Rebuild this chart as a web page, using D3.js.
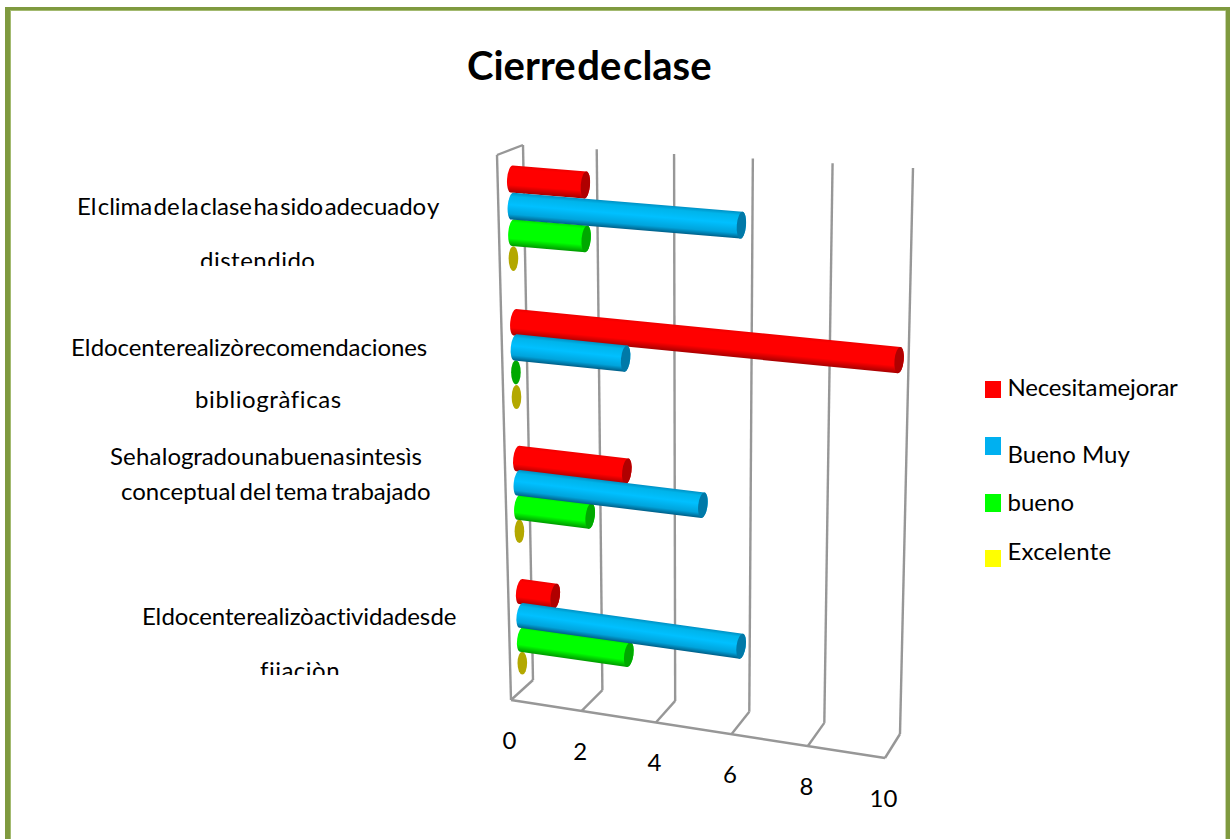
<!DOCTYPE html>
<html><head><meta charset="utf-8">
<script src="https://cdn.jsdelivr.net/npm/d3@7"></script>
<style>html,body{margin:0;padding:0;background:#fff}svg{display:block}text{font-family:Lato,"Open Sans",sans-serif;fill:#000}</style>
</head><body><svg id="c" width="1230" height="839"></svg>
<script>
const categories=["El clima de la clase ha sido adecuado y distendido","El docente realizò recomendaciones bibliogràficas","Se ha logrado una buena sintesìs conceptual del tema trabajado","El docente realizò actividades de fijaciòn"];
const seriesNames=["Necesita mejorar","Bueno Muy","bueno","Excelente"];
const necesitaMejorar=[2,10,3,1];
const buenoMuy=[6,3,5,6];
const bueno=[2,0,2,3];
const excelente=[0,0,0,0];
const tickValues=[0,2,4,6,8,10];
const swatchColors=["#ff0000","#00b0f0","#00ff00","#ffff00"];
const capColors=["#b00000","#0079a8","#00a800","#b3a800"];
const bodyStops=[
 [[0,"#ee0000"],[.12,"#ff0000"],[.72,"#ff0000"],[1,"#a80000"]],
 [[0,"#0090c4"],[.14,"#00b4ea"],[.45,"#00c0ff"],[.8,"#00a4dc"],[1,"#005f88"]],
 [[0,"#00dd00"],[.12,"#00ff00"],[.72,"#00ff00"],[1,"#009a00"]],
 [[0,"#b3a800"],[1,"#b3a800"]]];
const valuesBySeries=[necesitaMejorar,buenoMuy,bueno,excelente];
const labelLines=[
 [{t:"El clima de la clase ha sido adecuado y",x:77,y:215,ws:-4.6,ls:-.05},{t:"distendido",x:200,y:269,ws:0,ls:.5,clip:266}],
 [{t:"El docente realizò recomendaciones",x:71,y:356,ws:-5.5,ls:-.1},{t:"bibliogràficas",x:195,y:408,ws:0,ls:.6}],
 [{t:"Se ha logrado una buena sintesìs",x:110,y:465,ws:-5.5,ls:-.07},{t:"conceptual del tema trabajado",x:121,y:500,ws:-2.6}],
 [{t:"El docente realizò actividades de",x:142,y:625,ws:-5.5,ls:-.17},{t:"fijaciòn",x:260,y:679,ws:0,ls:.5,clip:675}]];

const svg=d3.select("#c");
const defs=svg.append("defs");
// frame
svg.append("rect").attr("x",5).attr("y",7).attr("width",1225).attr("height",4).attr("fill","#7f9a3f");
svg.append("rect").attr("x",5).attr("y",7).attr("width",5).attr("height",832).attr("fill","#7f9a3f");
svg.append("rect").attr("x",10).attr("y",10).attr("width",1216).attr("height",1).attr("fill","#a3ba70");
svg.append("rect").attr("x",10).attr("y",10).attr("width",1).attr("height",829).attr("fill","#a3ba70");
svg.append("rect").attr("x",1226).attr("y",7).attr("width",4).attr("height",832).attr("fill","#7f9a3f");
svg.append("rect").attr("x",1225).attr("y",11).attr("width",1).attr("height",828).attr("fill","#c9d4ac");

// oblique projection: value along the floor, h down the wall, d from back wall to front
const tScale=d3.scalePow().exponent(1.035).domain([0,10]).range([0,1]);
const hScale=d3.scalePow().exponent(.95).domain([0,1]).range([0,1]);
const corner={backTL:[523,145],backTR:[913,168],backBL:[533,680],backBR:[900,734],
              frontTL:[497,155],frontTR:[889,192],frontBL:[511,700],frontBR:[885,758]};
const mix=(a,b,k)=>[a[0]+(b[0]-a[0])*k,a[1]+(b[1]-a[1])*k];
function project(v,h,d){
 const t=tScale(v);
 const top=mix(mix(corner.backTL,corner.backTR,t),mix(corner.frontTL,corner.frontTR,t),d);
 const bot=mix(mix(corner.backBL,corner.backBR,t),mix(corner.frontBL,corner.frontBR,t),d);
 return mix(top,bot,h);
}
const gridG=svg.append("g").attr("fill","none").attr("stroke","#979797").attr("stroke-width",2.4);
const line=(a,b)=>gridG.append("line").attr("x1",a[0]).attr("y1",a[1]).attr("x2",b[0]).attr("y2",b[1]);
tickValues.forEach(v=>{
 line(project(v,0,0),project(v,1,0));
 line(project(v,1,0),project(v,1,1));
});
line(project(0,0,0),project(0,0,1));
line(project(0,0,1),project(0,1,1));
line(project(0,1,1),project(10,1,1));

// axis labels
svg.append("g").selectAll("text").data(tickValues).join("text")
 .attr("x",d=>project(d,1,1)[0]-1.5).attr("y",d=>project(d,1,1)[1]+49)
 .attr("text-anchor","middle").attr("font-size",24).text(d=>d);

// bars
const catBand=d3.scaleBand().domain(categories).range([-.011,1.007]);
const seriesBand=d3.scaleBand().domain(seriesNames).range([0,catBand.bandwidth()]).paddingInner(0).paddingOuter(.75);
const midDepth=.46;
seriesNames.forEach((s,i)=>{
 const g=defs.append("linearGradient").attr("id","g"+i).attr("x1",0).attr("y1",0).attr("x2",0).attr("y2",1);
 bodyStops[i].forEach(st=>g.append("stop").attr("offset",st[0]).attr("stop-color",st[1]));
});
const barsG=svg.append("g");
const drawOrder=[3,2,0,1];
categories.forEach((c,ci)=>{
 drawOrder.forEach(si=>{
  const v=valuesBySeries[si][ci];
  const u=catBand(c)+seriesBand(seriesNames[si])+seriesBand.bandwidth()/2;
  const h=hScale(u);
  const a=project(0,h,midDepth),b=project(v,h,midDepth);
  const L=Math.hypot(b[0]-a[0],b[1]-a[1]);
  const ang=Math.atan2(b[1]-a[1],b[0]-a[0])*180/Math.PI;
  const r=13.6-h*1.2,rx=v===0?4.8:4.6;
  const g=barsG.append("g").attr("transform",v===0?`translate(${a[0]},${a[1]})`:`translate(${a[0]},${a[1]}) rotate(${ang})`);
  if(v>0){
   g.append("path").attr("fill",`url(#g${si})`)
    .attr("d",`M0,${-r}L${L},${-r}A${rx},${r} 0 0 1 ${L},${r}L0,${r}A${rx},${r} 0 0 1 0,${-r}Z`);
  }
  g.append("ellipse").attr("cx",v===0?0:L).attr("cy",0).attr("rx",rx).attr("ry",v===0?r-1:r)
   .attr("fill",capColors[si]);
 });
});

// category labels
labelLines.forEach((lines,i)=>{
 lines.forEach((l,j)=>{
  const txt=svg.append("text").attr("x",l.x).attr("y",l.y).attr("font-size",24)
    .attr("word-spacing",l.ws).attr("letter-spacing",l.ls||0).text(l.t);
  if(l.clip){
   defs.append("clipPath").attr("id",`cl${i}${j}`).append("rect").attr("x",0).attr("y",l.clip-40).attr("width",600).attr("height",40);
   txt.attr("clip-path",`url(#cl${i}${j})`);
  }
 });
});

// legend
const legendRows=[{y:381,h:17,base:396,ws:-5,ls:-.2},{y:437,h:18,base:463,ws:0,ls:0},{y:494,h:18,base:511,ws:0,ls:0},{y:550,h:17,base:560,ws:0,ls:.2}];
seriesNames.forEach((s,i)=>{
 const r=legendRows[i];
 svg.append("rect").attr("x",985).attr("y",r.y).attr("width",16).attr("height",r.h).attr("fill",swatchColors[i]);
 svg.append("text").attr("x",1007.5).attr("y",r.base).attr("font-size",24).attr("word-spacing",r.ws).attr("letter-spacing",r.ls).text(s);
});
// title
svg.append("text").attr("x",467).attr("y",80).attr("font-size",40).attr("font-weight",700).attr("word-spacing",-8).text("Cierre de clase");
</script></body></html>
